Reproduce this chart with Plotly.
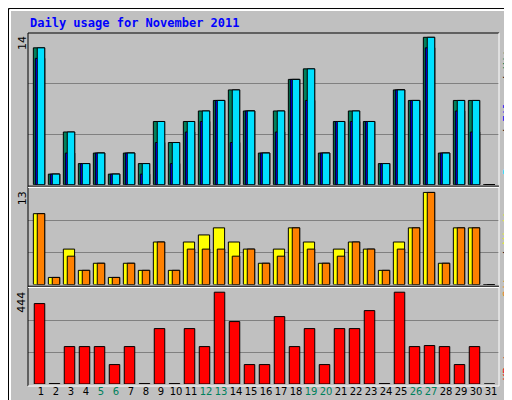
import plotly.graph_objects as go

days = list(range(1, 32))
hits   = [13,1,5,2,3,1,3,2,6,4,6,7,8,9,7,3,7,10,11,3,6,7,6,2,9,8,14,3,8,8,0]
files  = [12,1,3,2,3,1,3,1,4,2,5,6,8,4,7,3,5,10,8,3,6,6,6,2,9,8,13,3,7,5,0]
pages  = hits[:]
visits = [10,1,5,2,3,1,3,2,6,2,6,7,8,6,5,3,5,8,6,3,5,6,5,2,6,8,13,3,8,8,0]
sites  = [10,1,4,2,3,1,3,2,6,2,5,5,5,4,5,3,4,8,5,3,4,6,5,2,5,8,13,3,8,8,0]
kbytes = [389,2,181,181,181,94,181,2,268,2,268,181,444,302,94,94,326,181,268,94,268,268,355,2,444,181,186,181,94,181,0]
weekend = {5,6,12,13,19,20,26,27}

W, H = 512, 400
L, R, T, B = 20, 491, 25, 377.7
def px(x): return (x - L) / (R - L)
def py(y): return (B - y) / (B - T)

fig = go.Figure()
ln = dict(color="black", width=1)
def bars(vals, color, off, w, ax):
    fig.add_bar(x=days, y=vals, offset=off, width=w, marker=dict(color=color, line=ln),
                xaxis="x", yaxis=ax, showlegend=False, hoverinfo="skip")
bars(hits, "#00805c", -0.51, 0.75, "y")
bars(files, "#0000ff", -0.38, 0.63, "y")
bars(pages, "#00e0ff", -0.25, 0.5, "y")
bars(visits, "#ffff00", -0.51, 0.75, "y2")
bars(sites, "#ff8000", -0.25, 0.5, "y2")
bars(kbytes, "#ff0000", -0.45, 0.7, "y3")

def yax(dom, rng):
    return dict(domain=dom, range=[0, rng], tickvals=[rng/3, 2*rng/3], showticklabels=False,
                gridcolor="#808080", gridwidth=1, zeroline=False, showline=False, fixedrange=True,
                automargin=False)
r1 = 14*151.5/147.2; r2 = 13*96.3/92; r3 = 444*95.4/91.7
ticktext = [f'<span style="color:{"#00805c" if d in weekend else "black"}">{d}</span>' for d in days]
fig.update_layout(
    width=W, height=H, margin=dict(l=L, r=W-R, t=T, b=H-B, autoexpand=False),
    paper_bgcolor="#c0c0c0", plot_bgcolor="#c0c0c0", barmode="overlay",
    font=dict(family="DejaVu Sans Mono", size=11, color="black"),
    xaxis=dict(range=[1-13/15, 31+8/15], tickvals=days, ticktext=ticktext, showgrid=False,
               anchor="y3", automargin=False, tickangle=0,
               zeroline=False, ticks="", tickfont=dict(size=10, family="DejaVu Sans"), fixedrange=True),
    yaxis=yax([py(176.5), 1], r1),
    yaxis2=yax([py(276.3), py(180)], r2),
    yaxis3=yax([py(375.7), py(280.3)], r3),
)
shapes = []
def line(x0, y0, x1, y1, c, w=1):
    shapes.append(dict(type="line", xref="paper", yref="paper", x0=px(x0), y0=py(y0), x1=px(x1), y1=py(y1), line=dict(color=c, width=w)))
line(L, T, R, T, "black"); line(L, T, L, B, "black")
line(R, T, R, B, "white"); line(L, B, R, B, "white")
for y in (178, 278):
    line(L, y, R, y, "black"); line(L, y+1.3, R, y+1.3, "white")
line(0.5, 0.5, 511.5, 0.5, "black"); line(0.5, 0.5, 0.5, 399.5, "black")
line(511.5, 0, 511.5, 400, "black"); line(0, 399.5, 512, 399.5, "black")
line(2, 2, 509, 2, "white", 2); line(2, 2, 2, 397, "white", 2)
line(509, 2, 509, 397, "#808080", 2); line(2, 397, 509, 397, "#808080", 2)
fig.update_layout(shapes=shapes)

ann = []
def a(x, y, text, **k):
    d = dict(xref="paper", yref="paper", x=px(x), y=py(y), text=text, showarrow=False)
    d.update(k); ann.append(d)
a(20, 15, "<b>Daily usage for November 2011</b>", xanchor="left", yanchor="middle",
  font=dict(color="#0000ff", size=12, family="DejaVu Sans Mono"))
for ytop, t in ((26, "14"), (181, "13"), (282, "444")):
    a(14, ytop, t, textangle=-90, xanchor="center", yanchor="top", font=dict(size=11, family="DejaVu Sans"))
a(499, 101, '<span style="color:#00e0ff">Pages</span> / <span style="color:#0000ff">Files</span> / <span style="color:#00805c">Hits</span>',
  textangle=-90, xanchor="center", yanchor="middle", font=dict(size=11))
a(499, 243, '<span style="color:#ff8000">Sites</span> / <span style="color:#ffff00">Visits</span>',
  textangle=-90, xanchor="center", yanchor="middle", font=dict(size=11))
a(499, 352, '<span style="color:#ff0000">KBytes</span>',
  textangle=-90, xanchor="center", yanchor="middle", font=dict(size=11))
fig.update_layout(annotations=ann)
fig.write_html("out.html")
